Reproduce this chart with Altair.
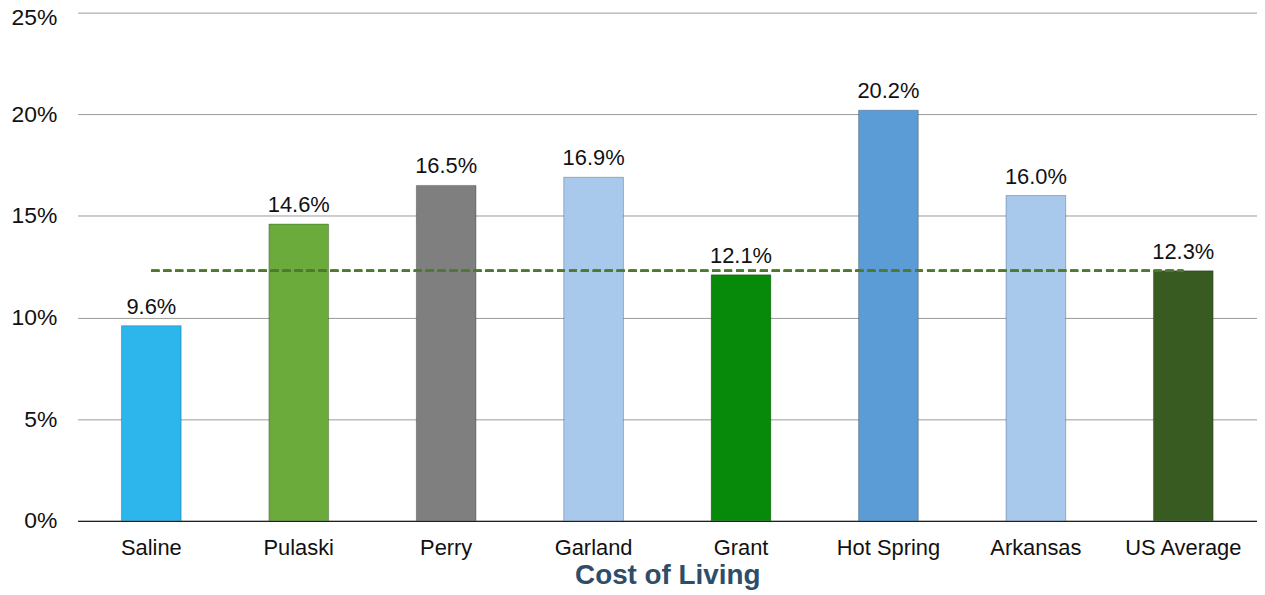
import altair as alt
import pandas as pd

categories = ["Saline", "Pulaski", "Perry", "Garland", "Grant", "Hot Spring", "Arkansas", "US Average"]
values = [9.6, 14.6, 16.5, 16.9, 12.1, 20.2, 16.0, 12.3]
colors = ["#2db6ec", "#6aab3c", "#7f7f7f", "#a8c8ec", "#078a0a", "#5b9bd6", "#a8c8ec", "#375b20"]
reference_value = 12.3
y_ticks = [0, 5, 10, 15, 20, 25]

df = pd.DataFrame({"county": categories, "value": values, "label": [f"{v:.1f}%" for v in values]})

FONT = "Liberation Sans"

xscale = alt.Scale(domain=categories, paddingInner=0.595, paddingOuter=0.2975)
yscale = alt.Scale(domain=[0, 25], nice=False)

xaxis = alt.Axis(title="Cost of Living", labelAngle=0, labelFontSize=22, labelColor="#111111",
                 labelFont=FONT, labelPadding=17, ticks=False, domainColor="#222222",
                 domainWidth=1.2, titleFont=FONT, titleFontSize=28, titleFontWeight="bold",
                 titleColor="#2e4d69", titlePadding=3, grid=False)
yaxis = alt.Axis(title=None, values=y_ticks, labelExpr="datum.value + '%'", labelFontSize=23,
                 labelFont=FONT, labelColor="#111111", ticks=False, domain=False,
                 gridColor="#9a9a9a", gridWidth=1, labelPadding=21,
                 labelOffset={"condition": {"test": "datum.value == 25", "value": 5}, "value": 0})

bars = alt.Chart(df).mark_bar(stroke="rgba(0,0,0,0.25)", strokeWidth=1).encode(
    x=alt.X("county:N", scale=xscale, axis=xaxis),
    y=alt.Y("value:Q", scale=yscale, axis=yaxis),
    color=alt.Color("county:N", scale=alt.Scale(domain=categories, range=colors), legend=None),
)

text = alt.Chart(df).mark_text(baseline="alphabetic", dy=-12, fontSize=22, font=FONT, color="#111111").encode(
    x=alt.X("county:N", scale=xscale, axis=xaxis),
    y=alt.Y("value:Q", scale=yscale, axis=yaxis),
    text="label:N",
)

rule = alt.Chart(df).mark_rule(
    color="#4e7a30", strokeWidth=2.2, strokeDash=[8, 4]
).encode(
    x=alt.datum(categories[0], scale=xscale, axis=xaxis, type="nominal"),
    x2=alt.datum(categories[-1]),
    y=alt.datum(reference_value, type="quantitative", scale=yscale, axis=yaxis),
)

chart = alt.layer(bars, text, rule).properties(
    width=1186, height=511,
    background="white",
    autosize=alt.AutoSizeParams(type="none"),
    padding={"left": 70, "top": 3, "right": 0, "bottom": 80},
).configure_view(stroke=None)

chart.save("out.html", embed_options={"renderer": "svg", "actions": False})
